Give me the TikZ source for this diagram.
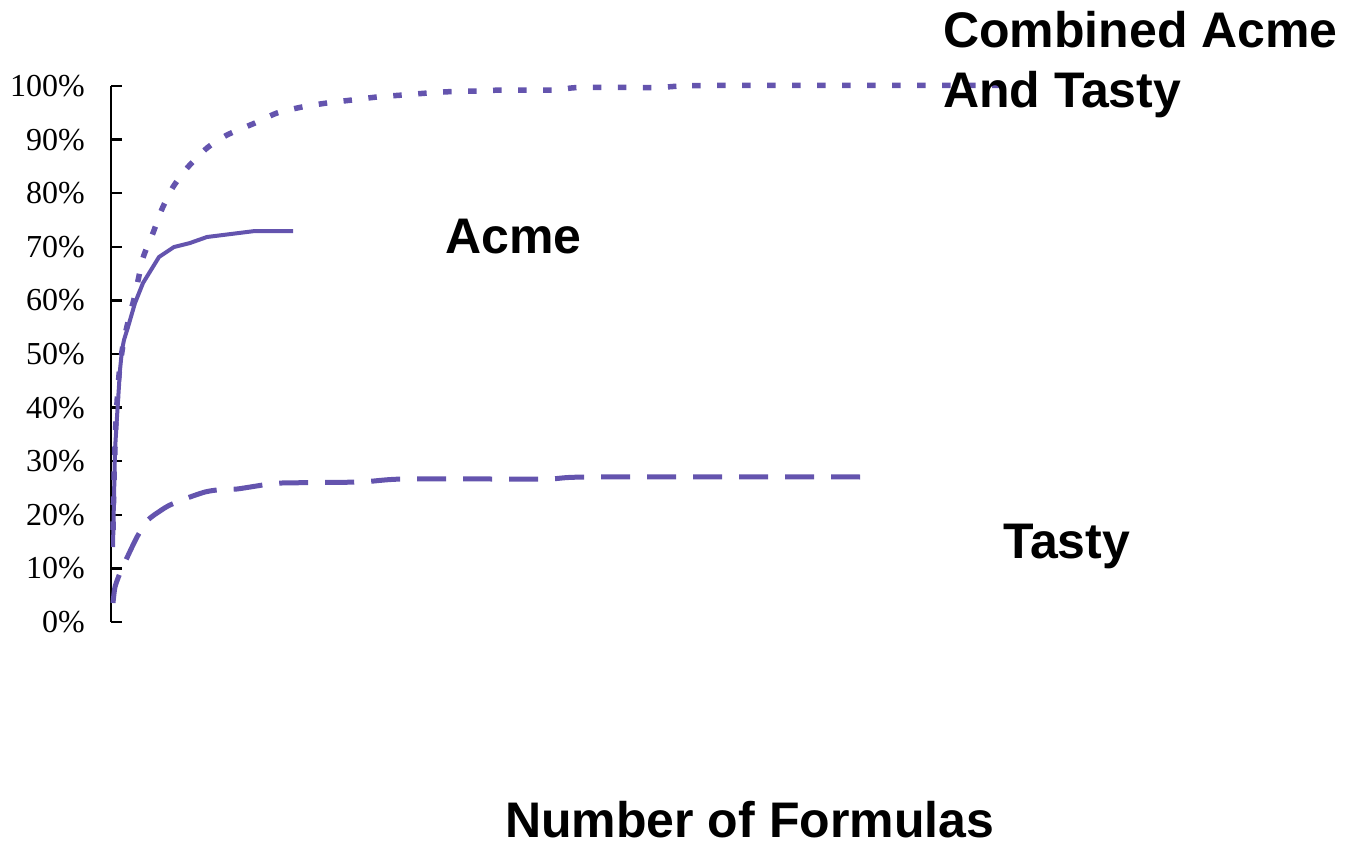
\documentclass[tikz,border=0pt]{standalone}
\usepackage{fontspec}
\setmainfont{Liberation Serif}
\newfontfamily\labelfont{Liberation Sans}
\definecolor{series}{RGB}{100,84,174}
\begin{document}
\begin{tikzpicture}[x=1pt,y=-1pt,
  axisline/.style={black,line width=2.5pt},
  ticklabel/.style={anchor=base east,inner sep=0pt,font=\fontsize{32}{38}\selectfont},
  serieslabel/.style={anchor=base west,inner sep=0pt,font=\labelfont\bfseries\fontsize{50}{60}\selectfont},
  acmeline/.style={series,line width=4pt,line join=round},
  combinedline/.style={series,line width=5.5pt,dash pattern=on 8.5pt off 16.5pt},
  tastyline/.style={series,line width=5pt,dash pattern=on 29pt off 17pt}]
\useasboundingbox (0,0) rectangle (1350,843);

% vertical axis with ticks and percentage labels
\coordinate (ytop) at (111,86);
\coordinate (ybot) at (111,622);
\draw[axisline] (ytop) -- (ybot);
\foreach \p in {0,10,...,100}{
  \pgfmathsetmacro{\yy}{622-5.36*\p}
  \draw[axisline] (111,\yy) -- (122,\yy);
  \node[ticklabel] (tick\p) at (85,\yy+10.5) {\p\%};
}

% Combined Acme and Tasty
\draw[combinedline] plot[smooth,tension=0.4] coordinates {
 (113,530) (114,480) (116,420) (119,375) (123,345) (128,322) (135,295)
 (143,258) (153,233) (162,209) (173,187) (188,167) (207,148) (227,135)
 (255,123) (277,113) (302,107) (327,103) (352,100) (377,97) (403,95)
 (428,93) (453,91.5) (479,91) (503,90) (554,90) (579,87.5) (655,87.5)
 (680,86) (705,85.5) (1014,85.5)};

% Acme
\draw[acmeline] plot coordinates {
 (113,547) (115,450) (117,417) (120,370) (122,350) (124,340) (128,327)
 (135,303) (143,283) (159,257) (174,247) (190,243) (207,237) (255,231)
 (293,231)};

% Tasty
\draw[tastyline] plot[smooth,tension=0.4] coordinates {
 (113,603) (115,587) (120,573) (125,562) (137,537) (148,520) (160,511)
 (170,505) (190,497) (205,492) (217,490) (237,489) (263,485) (282,483)
 (360,482) (404,479) (545,479) (590,477) (864,477)};

% series names and axis title
\node[serieslabel,anchor=north west,align=left] (lblcombined) at (943,11.5) {Combined Acme\\And Tasty};
\node[serieslabel] (lblacme) at (445,253) {Acme};
\node[serieslabel] (lbltasty) at (1003,558) {Tasty};
\node[serieslabel] (xtitle) at (505,837) {Number of Formulas};
\end{tikzpicture}
\end{document}
